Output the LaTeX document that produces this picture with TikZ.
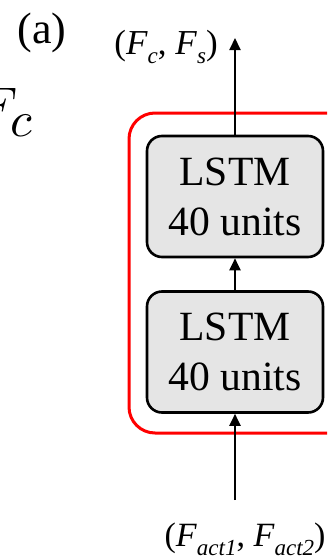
\documentclass[tikz,border=0pt]{standalone}
\usepackage{fontspec}
\setmainfont{Liberation Serif}
\usetikzlibrary{arrows.meta}
\newcommand\mysub[2]{\raisebox{-0.28em}{\fontsize{#1}{#1}\selectfont\itshape #2}}
\tikzset{
  lstm/.style={draw=black, line width=2.6pt, fill=black!10, rounded corners=15pt,
    minimum width=176pt, minimum height=121pt, inner sep=0pt, align=center,
    font=\fontsize{41.6}{50}\selectfont},
  conn/.style={line width=2pt, -{Triangle[length=12pt,width=11pt]}},
  frame/.style={draw=red, line width=3pt, rounded corners=26pt}
}
\begin{document}
\begin{tikzpicture}[x=1pt,y=-1pt]
\useasboundingbox (0,0) rectangle (327,557);
\clip (0,0) rectangle (327,557);
\fill[white] (0,0) rectangle (327,557);
\draw[frame] (129,113) rectangle (380,433);
\node[lstm] (l1) at (235,196.5) {LSTM\\40 units};
\node[lstm] (l2) at (235,352) {LSTM\\40 units};
\coordinate (top) at (235,38);
\coordinate (bot) at (235,500);
\draw[conn] (l1.north) -- (top);
\draw[conn] (l2.north) -- (l1.south);
\draw[conn] (bot) -- (l2.south);
\node[anchor=base, font=\fontsize{44}{44}\selectfont] (lbla) at (42,43) {(a)};
\node[anchor=base, font=\fontsize{35}{35}\selectfont] (out) at (166,54)
  {(\textit{F}\mysub{23}{c}, \textit{F}\mysub{23}{s})};
\node[anchor=base, font=\fontsize{34}{34}\selectfont] (in) at (245,546)
  {(\textit{F}\mysub{23}{act1}, \textit{F}\mysub{23}{act2})};
\node[anchor=base west, inner sep=0pt] (fc) at (-22,122)
  {\scalebox{5}{$F_{\raisebox{-1.3pt}{$\textstyle c$}}$}};
\end{tikzpicture}
\end{document}
